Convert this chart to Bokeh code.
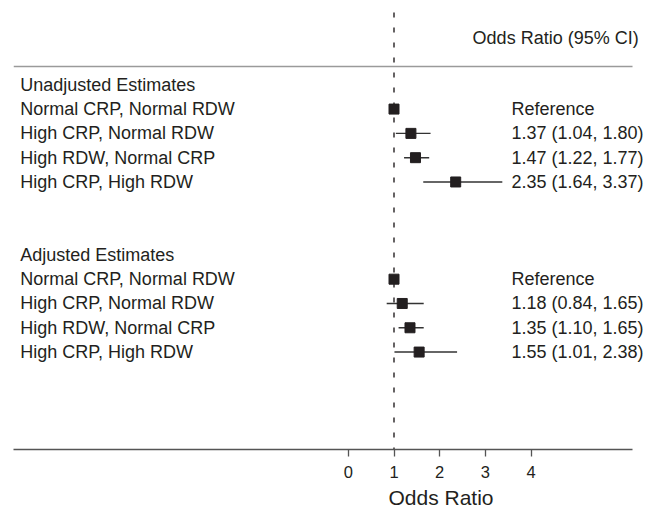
from bokeh.plotting import figure
from bokeh.models import Range1d, LinearAxis, FixedTicker, Span, Title
from bokeh.core.properties import value
from bokeh.embed import file_html
from bokeh.resources import INLINE

# ---- data ----
section_titles = ["Unadjusted Estimates", "Adjusted Estimates"]
row_labels = ["Normal CRP, Normal RDW", "High CRP, Normal RDW",
              "High RDW, Normal CRP", "High CRP, High RDW"]
or_unadj = [1.00, 1.37, 1.47, 2.35]
lo_unadj = [None, 1.04, 1.22, 1.64]
hi_unadj = [None, 1.80, 1.77, 3.37]
or_adj = [1.00, 1.18, 1.35, 1.55]
lo_adj = [None, 0.84, 1.10, 1.01]
hi_adj = [None, 1.65, 1.65, 2.38]
x_ticks = [0, 1, 2, 3, 4]
header_text = "Odds Ratio (95% CI)"
x_title = "Odds Ratio"

# ---- layout (row index positions) ----
section_rows = [0, 7]
first_rows = [1, 8]
X0, X1 = -7.326, 6.722     # visible x range
AXIS_END = 6.219           # where the axis line / header rule stop

FONT = value("Liberation Sans")
TXT = "#231f20"
FS = "18px"

p = figure(frame_width=642, frame_height=441, output_backend="svg",
           toolbar_location=None, x_axis_type=None, y_axis_type=None,
           x_range=Range1d(X0, X1), y_range=Range1d(15.01, -3.14),
           min_border_left=13, min_border_right=5, min_border_top=8,
           min_border_bottom=0, outline_line_color=None)
p.xgrid.visible = False
p.ygrid.visible = False

# reference line
p.add_layout(Span(location=1, dimension="height", line_color=TXT,
                  line_width=1.4, line_dash="5 10", line_dash_offset=-4,
                  level="underlay"))
# header rule
p.segment(x0=[X0], y0=[-0.75], x1=[AXIS_END], y1=[-0.75],
          line_color="#9a9a9a", line_width=1.5, level="underlay")

lab_x, lab_y, lab_t = [], [], []
ci_x, ci_y, ci_t = [], [], []
pt_x, pt_y = [], []
seg_x0, seg_x1, seg_y = [], [], []

for s, (ors, los, his) in enumerate([(or_unadj, lo_unadj, hi_unadj),
                                       (or_adj, lo_adj, hi_adj)]):
    lab_x.append(-7.18); lab_y.append(section_rows[s]); lab_t.append(section_titles[s])
    for i, name in enumerate(row_labels):
        y = first_rows[s] + i
        lab_x.append(-7.18); lab_y.append(y); lab_t.append(name)
        pt_x.append(ors[i]); pt_y.append(y)
        ci_x.append(3.57); ci_y.append(y)
        if los[i] is None:
            ci_t.append("Reference")
        else:
            ci_t.append(f"{ors[i]:.2f} ({los[i]:.2f}, {his[i]:.2f})")
            seg_x0.append(los[i]); seg_x1.append(his[i]); seg_y.append(y)

p.segment(x0=seg_x0, y0=seg_y, x1=seg_x1, y1=seg_y, line_color="#333333",
          line_width=1.4)
p.scatter(x=pt_x, y=pt_y, marker="square", size=10, fill_color=TXT,
          line_color=TXT)

p.text(x=lab_x, y=lab_y, text=lab_t, text_font=FONT, text_font_size=FS,
       text_baseline="middle", text_align="left", text_color=TXT)
p.text(x=ci_x, y=ci_y, text=ci_t, text_font=FONT, text_font_size=FS,
       text_baseline="middle", text_align="left", text_color=TXT)
p.text(x=[2.72], y=[-1.94], text=[header_text], text_font=FONT,
       text_font_size=FS, text_baseline="middle", text_align="left",
       text_color=TXT)

# x axis: line stops at the header-rule end, ticks 0..4
ax = LinearAxis(ticker=FixedTicker(ticks=x_ticks), bounds=(X0, AXIS_END))
ax.axis_line_color = "#555555"
ax.axis_line_width = 1.5
ax.major_tick_line_color = "#555555"
ax.major_tick_line_width = 1.3
ax.major_tick_out = 7
ax.major_tick_in = 0
ax.minor_tick_line_color = None
ax.major_label_standoff = 9
ax.major_label_text_font = "Liberation Sans"
ax.major_label_text_font_size = "16.5px"
ax.major_label_text_color = TXT
p.add_layout(ax, "below")

# axis title, placed under the middle of the tick range
p.add_layout(Title(text=x_title, align="left", offset=375, standoff=7,
                   text_font="Liberation Sans", text_font_size="21px",
                   text_font_style="normal", text_color=TXT), "below")

open("out.html", "w").write(file_html(p, INLINE))
